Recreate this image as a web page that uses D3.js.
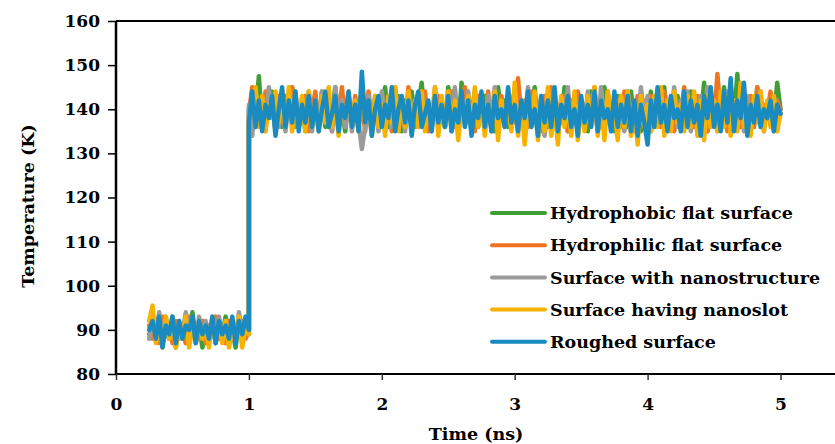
<!DOCTYPE html>
<html>
<head>
<meta charset="utf-8">
<script src="https://cdn.jsdelivr.net/npm/d3@7"></script>
<style>
  body { margin: 0; background: white; }
  text { font-family: "DejaVu Serif", serif; font-weight: bold; fill: #000; }
</style>
</head>
<body>
<div id="chart"></div>
<script>
// sampling of the two plateaus (ns)
const lowStart = 0.25, highStart = 1.0, tStep = 0.025;

const seriesNames = ["Hydrophobic flat surface", "Hydrophilic flat surface",
    "Surface with nanostructure", "Surface having nanoslot", "Roughed surface"];
const seriesColours = ["#3f9e35", "#ee7623", "#9b9b9b", "#f7b200", "#1a8bc1"];

const xTicks = [0, 1, 2, 3, 4, 5];
const yTicks = [80, 90, 100, 110, 120, 130, 140, 150, 160];

// temperatures before the jump (0.25 - 1.0 ns)
const hydrophobicLow = [89,91,88,92,87,90,88,93,86,91,89,92,87,94,88,91,86,90,88,92,87,91,89,93,88,90,86,92,88,91,89];
const hydrophilicLow = [91,88,92,87,93,89,91,87,92,88,90,87,93,89,91,88,92,87,91,89,93,88,90,87,92,88,91,89,92,88,90];
const nanostructureLow = [88,92,89,94,87,93,88,91,87,92,89,94,88,91,87,93,89,92,88,91,87,93,88,92,89,91,88,94,89,92,90];
const nanoslotLow = [92,95.5,87,91,86,93,88,92,86,90,88,93,86,91,87,92,88,90,86,93,88,91,87,92,86,90,88,93,86,91,89];
const roughedLow = [90,92,88,93,86,91,89,93,87,92,88,91,90,93,87,92,89,91,88,93,87,92,89,91,88,93,87,92,89,93,90];

// temperatures after the jump (1.0 - 5.0 ns)
const hydrophobicHigh = [
    140,143,138,147.5,136,142,139,144,137,141,
    136,143,139,145,137,140,142,135,144,138,
    141,137,144,136,142,139,145,137,140,135,
    143,138,141,136,145,139,142,135,143,137,
    140,145,136,141,138,143,135,142,139,144,
    137,141,146,138,140,136,143,139,141,136,
    145,138,141,135,146,137,142,139,144,136,
    140,143,137,141,135,145,138,142,136,141,
    144,137,140,135,142,138,145,136,141,139,
    136,143,138,141,137,145,135,142,139,143,
    137,141,135,144,138,142,136,145,139,141,
    135,143,138,140,136,144,137,142,135,141,
    139,144,136,141,138,145,137,142,136,143,
    138,141,136,144,139,142,137,146,135,143,
    139,142,136,145,138,141,137,148,136,144,
    138,142,136,145,137,141,139,143,137,146,
    140];
const hydrophilicHigh = [
    139,145,137,142,136,144,138,141,135,143,
    137,142,139,145,136,141,138,143,135,140,
    144,136,141,138,143,135,142,139,145,137,
    140,136,143,138,141,135,144,137,142,136,
    143,137,141,135,144,138,142,136,145,139,
    136,142,138,144,135,141,139,143,137,141,
    138,144,136,142,139,145,137,141,135,143,
    141,137,144,135,142,138,143,136,141,139,
    137,147,138,142,136,144,139,141,135,143,
    139,145,136,141,138,143,135,142,137,144,
    141,136,143,138,145,137,142,135,144,139,
    138,142,136,144,139,141,135,143,137,142,
    137,143,139,141,136,144,138,142,135,141,
    139,145,137,142,136,143,138,141,135,144,
    137,148,139,142,135,145,138,141,136,143,
    138,143,136,145,137,141,139,144,135,142,
    140];
const nanostructureHigh = [
    141,134,144,137,142,135,145,138,141,136,
    143,135,142,137,144,136,140,138,143,135,
    142,136,144,138,141,135,145,137,142,136,
    143,135,141,137,131,136,143,138,142,135,
    144,137,142,136,145,138,141,135,143,137,
    142,136,144,138,141,135,145,137,142,136,
    143,137,145,136,141,138,144,135,142,137,
    141,136,143,138,145,135,142,137,140,136,
    144,135,142,137,145,136,141,138,143,134,
    141,137,144,136,142,138,145,135,141,137,
    142,136,144,138,141,135,145,137,143,136,
    142,137,143,135,144,138,141,136,145,137,
    143,135,142,137,144,136,141,138,145,136,
    142,137,144,135,141,138,143,136,145,137,
    141,135,143,137,144,136,142,138,141,135,
    143,136,142,138,144,135,141,137,143,138,
    139];
const nanoslotHigh = [
    137,142,145,136,143,135,141,138,144,137,
    142,136,145,135,141,138,143,135,144,136,
    141,135,143,137,145,136,142,134,141,138,
    144,136,142,135,145,137,141,134,143,136,
    141,134,143,137,145,135,142,136,144,135,
    142,136,144,135,141,137,145,134,143,136,
    144,135,142,133,141,137,143,135,145,136,
    142,134,141,136,144,133,142,137,143,135,
    146,134,142,132,141,136,144,133,142,135,
    145,134,141,132,143,136,142,134,144,133,
    141,135,143,136,145,134,142,133,144,137,
    141,133,143,136,144,134,142,132,143,136,
    141,135,143,136,145,134,142,135,144,137,
    141,135,143,136,144,134,142,133,143,136,
    142,135,144,136,143,134,142,135,146,136,
    141,134,143,137,144,135,142,136,143,135,
    139];
const roughedHigh = [
    137,144,136,142,135,141,138,143,134,140,
    145,136,142,137,144,135,141,137,143,136,
    142,135,140,144,136,139,143,135,141,138,
    144,136,141,135,148.5,137,142,134,140,143,
    136,141,138,145,135,140,143,137,142,134,
    141,144,136,139,142,135,143,137,141,136,
    143,135,140,137,144,136,142,134,141,138,
    144,136,141,135,143,138,140,136,145,137,
    141,135,142,138,144,136,140,134,143,137,
    142,136,145,135,141,138,143,136,140,134,
    143,137,141,136,144,135,142,138,140,135,
    144,136,141,137,143,135,142,134,141,137,
    132,142,136,145,137,141,135,143,138,140,
    135,144,136,142,137,141,134,143,138,145,
    136,141,135,144,137,147,135,142,138,146,
    134,141,137,143,136,140,138,142,135,141,
    139];

const lowSets = [hydrophobicLow, hydrophilicLow, nanostructureLow, nanoslotLow, roughedLow];
const highSets = [hydrophobicHigh, hydrophilicHigh, nanostructureHigh, nanoslotHigh, roughedHigh];

const series = seriesNames.map((name, k) => ({
    name,
    colour: seriesColours[k],
    values: lowSets[k].map((v, i) => ({ t: lowStart + i * tStep, v }))
        .concat(highSets[k].map((v, i) => ({ t: highStart + i * tStep, v })))
}));

const W = 835, H = 444;
const plot = { left: 116, right: 835, top: 21, bottom: 374 };

const svg = d3.select("#chart")
    .append("svg")
        .attr("width", W)
        .attr("height", H);

const x = d3.scaleLinear()
    .domain([0, 5.41])
    .range([plot.left, plot.right]);

const y = d3.scaleLinear()
    .domain([80, 160])
    .range([plot.bottom, plot.top]);

const line = d3.line()
    .x(d => x(d.t))
    .y(d => y(d.v));

svg.append("g")
    .selectAll("path")
    .data(series)
    .join("path")
        .attr("fill", "none")
        .attr("stroke", d => d.colour)
        .attr("stroke-width", 4.5)
        .attr("stroke-linejoin", "round")
        .attr("stroke-linecap", "round")
        .attr("d", d => line(d.values));

// frame
svg.append("line")
    .attr("x1", plot.left).attr("x2", plot.right)
    .attr("y1", plot.top).attr("y2", plot.top)
    .attr("stroke", "#000").attr("stroke-width", 2);

const xAxisGroup = svg.append("g")
    .attr("transform", `translate(0,${plot.bottom})`)
    .call(d3.axisBottom(x).tickValues(xTicks).tickFormat(d3.format("d")).tickSize(6).tickPadding(18));

xAxisGroup.select(".domain").attr("stroke-width", 2).attr("d", `M${plot.left},0H${plot.right}`);
xAxisGroup.selectAll("line").attr("stroke", "#333").attr("stroke-width", 1.5);
xAxisGroup.selectAll("text")
    .style("font-family", "DejaVu Serif")
    .style("font-weight", "bold")
    .style("font-size", "17px")
    .attr("fill", "#000");

const yAxisGroup = svg.append("g")
    .attr("transform", `translate(${plot.left},0)`)
    .call(d3.axisLeft(y).tickValues(yTicks).tickSize(8).tickPadding(8));

yAxisGroup.select(".domain").attr("stroke-width", 2.5).attr("d", `M0,${plot.bottom}V${plot.top}`);
yAxisGroup.selectAll("line").attr("stroke", "#000").attr("stroke-width", 1.5);
yAxisGroup.selectAll("text")
    .style("font-family", "DejaVu Serif")
    .style("font-weight", "bold")
    .style("font-size", "17px")
    .attr("fill", "#000");

svg.append("text")
    .attr("x", 476)
    .attr("y", 440)
    .attr("text-anchor", "middle")
    .style("font-size", "17.5px")
    .text("Time (ns)");

svg.append("text")
    .attr("transform", "rotate(-90)")
    .attr("x", -206)
    .attr("y", 34)
    .attr("text-anchor", "middle")
    .style("font-size", "17.5px")
    .text("Temperature (K)");

// legend
const legend = svg.append("g")
    .selectAll("g")
    .data(series)
    .join("g")
        .attr("transform", (d, i) => `translate(492,${213 + i * 32.2})`);

legend.append("line")
    .attr("x1", 0).attr("x2", 53)
    .attr("stroke", d => d.colour)
    .attr("stroke-width", 4)
    .attr("stroke-linecap", "round");

legend.append("text")
    .attr("x", 58)
    .attr("dy", "0.35em")
    .style("font-size", "17.5px")
    .text(d => d.name);
</script>
</body>
</html>
